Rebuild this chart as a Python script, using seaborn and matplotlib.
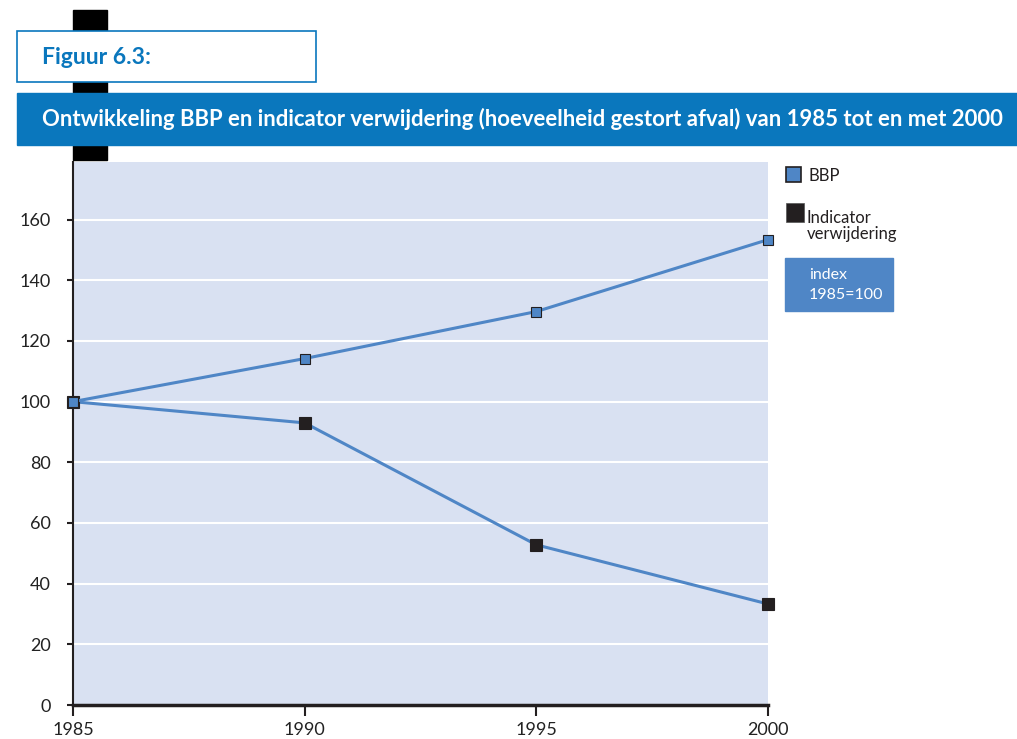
import matplotlib
matplotlib.use("Agg")
import matplotlib.pyplot as plt
import seaborn as sns
import pandas as pd
from matplotlib.patches import Rectangle

years = [1985, 1990, 1995, 2000]
bbp = [100, 114.2, 129.7, 153.4]
indicator = [100, 93.0, 52.8, 33.3]
yticks = [0, 20, 40, 60, 80, 100, 120, 140, 160]
title = "Ontwikkeling BBP en indicator verwijdering (hoeveelheid gestort afval) van 1985 tot en met 2000"
figlabel = "Figuur 6.3:"
series_names = ["BBP", "Indicator\nverwijdering"]
index_note = "index\n1985=100"

sns.set_theme(style="white")
plt.rcParams['font.family'] = ['Lato', 'DejaVu Sans']

LINE = "#4F86C6"
BAND = "#0A77BD"
BG = "#D9E1F2"
DARK = "#231F20"

W, H = 1017, 739
fig = plt.figure(figsize=(W / 100, H / 100), dpi=100)

def fx(px):
    return px / W

def fy(py):
    return 1 - py / H

# decorations
fig.patches.append(Rectangle((fx(73), fy(160)), fx(107) - fx(73), fy(10) - fy(160),
                             transform=fig.transFigure, color="black", zorder=0))
fig.patches.append(Rectangle((fx(17), fy(82)), fx(316) - fx(17), fy(31) - fy(82),
                             transform=fig.transFigure, facecolor="white", edgecolor=BAND,
                             linewidth=1.2, zorder=1))
fig.text(fx(42), fy(57), figlabel, color=BAND, fontsize=16.5, fontweight="bold",
         va="center", ha="left", zorder=2)
fig.patches.append(Rectangle((fx(17), fy(145)), fx(1017) - fx(17), fy(93) - fy(145),
                             transform=fig.transFigure, color=BAND, zorder=1))
fig.text(fx(42), fy(119), title, color="white", fontsize=15.9, fontweight="bold",
         va="center", ha="left", zorder=2)

ax = fig.add_axes([fx(73), fy(705), fx(768) - fx(73), fy(162) - fy(705)])
ax.set_facecolor(BG)

df = pd.DataFrame({"year": years * 2,
                   "value": bbp + indicator,
                   "series": ["BBP"] * 4 + ["Indicator"] * 4})

sns.lineplot(data=df[df.series == "Indicator"], x="year", y="value", ax=ax, color=LINE,
             linewidth=2.2, marker="s", markersize=8, markerfacecolor=DARK,
             markeredgecolor=DARK, markeredgewidth=0.8, clip_on=False, zorder=3)
sns.lineplot(data=df[df.series == "BBP"], x="year", y="value", ax=ax, color=LINE,
             linewidth=2.2, marker="s", markersize=7, markerfacecolor=LINE,
             markeredgecolor=DARK, markeredgewidth=0.8, clip_on=False, zorder=4)

ax.set_xlim(1985, 2000)
ax.set_ylim(0, 179)
ax.set_yticks(yticks)
ax.set_xticks(years)
ax.yaxis.grid(True, color="white", linewidth=1.5)
ax.set_axisbelow(True)
ax.set_xlabel("")
ax.set_ylabel("")
for s in ["top", "right"]:
    ax.spines[s].set_visible(False)
ax.spines["left"].set_color(DARK)
ax.spines["left"].set_linewidth(1.5)
ax.spines["bottom"].set_color(DARK)
ax.spines["bottom"].set_linewidth(2.5)
ax.tick_params(axis="y", length=4, width=1.5, color=DARK, labelsize=13, labelcolor="#222222",
               left=True, pad=12)
ax.tick_params(axis="x", length=8, width=1.5, color=DARK, labelsize=13, labelcolor="#222222",
               bottom=True, pad=4)

# legend
fig.patches.append(Rectangle((fx(786), fy(182)), fx(15), fy(167) - fy(182),
                             transform=fig.transFigure, facecolor=LINE, edgecolor=DARK,
                             linewidth=1.2, zorder=2))
fig.text(fx(808), fy(176), series_names[0], fontsize=12, color=DARK, va="center", ha="left")
fig.patches.append(Rectangle((fx(786), fy(222)), fx(18), fy(203) - fy(222),
                             transform=fig.transFigure, facecolor=DARK, edgecolor="#555555",
                             linewidth=0.5, zorder=2))
fig.text(fx(807), fy(226), series_names[1], fontsize=12, color=DARK, va="center", ha="left",
         linespacing=1.0)
fig.patches.append(Rectangle((fx(785), fy(311)), fx(893) - fx(785), fy(258) - fy(311),
                             transform=fig.transFigure, color=LINE, zorder=1))
fig.text(fx(809), fy(285), index_note, fontsize=11.5, color="white", va="center", ha="left",
         linespacing=1.5, zorder=2)

fig.savefig("out.png", dpi=100)
